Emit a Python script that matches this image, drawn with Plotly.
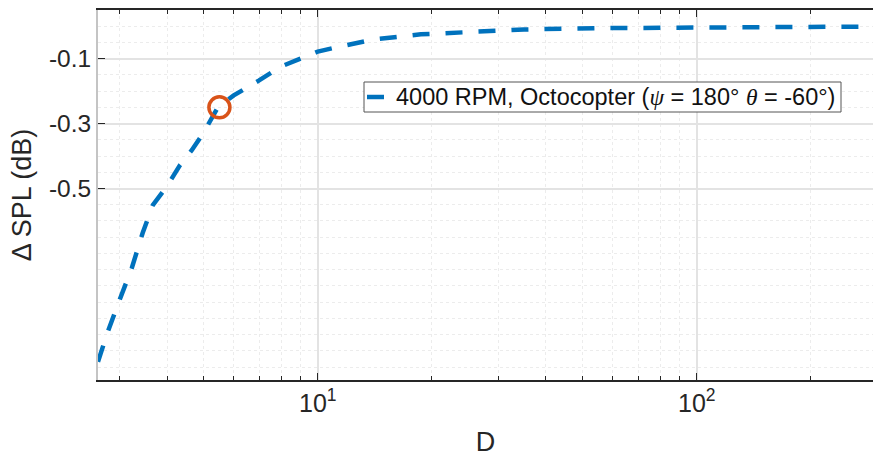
import plotly.graph_objects as go

# Data
D = [2.63, 2.79, 3.0, 3.23, 3.45, 3.67, 4.0, 4.33, 4.65, 5.0, 5.45, 6.0, 7.0, 8.0,
     9.0, 10.0, 11.2, 14.0, 18.7, 25.5, 35.0, 54.0, 100.0, 180.0, 290.0]
dSPL = [-1.034, -0.942, -0.843, -0.745, -0.637, -0.551, -0.493, -0.428, -0.382, -0.327,
        -0.250, -0.213, -0.167, -0.124, -0.100, -0.078, -0.065, -0.041, -0.025, -0.016,
        -0.010, -0.006, -0.003, -0.002, -0.001]
D_marker = [5.5]
dSPL_marker = [-0.25]

GREEK = "<span style='font-family:Liberation Serif, DejaVu Serif, serif'><i>{}</i></span>"
series_name = ("4000 RPM, Octocopter (" + GREEK.format("ψ") + " = 180° "
               + GREEK.format("θ") + " = -60°)")
x_tickvals = [10, 100]
x_ticktext = ["10<sup>1</sup>", "10<sup>2</sup>"]
x_minor = [3, 4, 5, 6, 7, 8, 9, 20, 30, 40, 50, 60, 70, 80, 90, 200]
y_tickvals = [-0.5, -0.3, -0.1]
y_ticktext = ["-0.5", "-0.3", "-0.1"]

FONT = "Liberation Sans, Arial, sans-serif"
BLUE = "#0072BD"
ORANGE = "#D95319"

# layout geometry (pixels)
W, H = 873, 459
ML, MR, MT, MB = 98, 0, 10, 79
PW, PH = W - ML - MR, H - MT - MB


def px_x(p):
    return (p - ML) / PW


def px_y(p):
    return (H - MB - p) / PH


fig = go.Figure()
fig.add_trace(go.Scatter(
    x=D, y=dSPL, mode="lines", name=series_name, showlegend=False,
    line=dict(color=BLUE, width=4.5, dash="17px,16px"),
))
fig.add_trace(go.Scatter(
    x=D_marker, y=dSPL_marker, mode="markers", showlegend=False,
    marker=dict(symbol="circle-open", size=21, color=ORANGE,
                line=dict(width=3.5, color=ORANGE)),
))

# legend box drawn manually (compact, like the reference)
LEG_L, LEG_R, LEG_T, LEG_B = 364, 841, 82, 112
fig.add_shape(type="rect", xref="paper", yref="paper",
              x0=px_x(LEG_L), x1=px_x(LEG_R), y0=px_y(LEG_B), y1=px_y(LEG_T),
              fillcolor="white", line=dict(color="#555555", width=1), layer="above")
fig.add_shape(type="line", xref="paper", yref="paper",
              x0=px_x(LEG_L + 3), x1=px_x(LEG_L + 20),
              y0=px_y((LEG_T + LEG_B) / 2), y1=px_y((LEG_T + LEG_B) / 2),
              line=dict(color=BLUE, width=4.5), layer="above")
fig.add_annotation(xref="paper", yref="paper",
                   x=px_x(LEG_L + 30), y=px_y((LEG_T + LEG_B) / 2),
                   xanchor="left", yanchor="middle", showarrow=False,
                   text=series_name, font=dict(family=FONT, size=23.5, color="#111111"))

fig.update_layout(
    width=W, height=H,
    margin=dict(l=ML, r=MR, t=MT, b=MB),
    paper_bgcolor="white", plot_bgcolor="white",
    font=dict(family=FONT, size=25, color="#262626"),
    showlegend=False,
    xaxis=dict(
        type="log", range=[0.42, 2.465],
        tickmode="array", tickvals=x_tickvals, ticktext=x_ticktext,
        ticks="inside", ticklen=7, tickwidth=1, tickcolor="#262626",
        tickfont=dict(size=25),
        showline=True, linecolor="#262626", linewidth=1.5, mirror="ticks",
        showgrid=True, gridcolor="#e3e3e3", gridwidth=1.5,
        minor=dict(tickmode="array", tickvals=x_minor, ticks="inside", ticklen=4,
                   tickcolor="#262626", showgrid=True, gridcolor="#ececec",
                   griddash="dot", gridwidth=1),
        title=dict(text="D", font=dict(size=27, color="#262626"), standoff=16),
        zeroline=False,
    ),
    yaxis=dict(
        range=[-1.09, 0.05],
        tickmode="array", tickvals=y_tickvals, ticktext=y_ticktext,
        ticks="inside", ticklen=7, tickwidth=1, tickcolor="#262626",
        tickfont=dict(size=24.5),
        showline=True, linecolor="#c4c4c4", linewidth=2,
        showgrid=True, gridcolor="#e3e3e3", gridwidth=1.5,
        minor=dict(tickmode="linear", tick0=0, dtick=0.05, ticks="",
                   showgrid=True, gridcolor="#ececec", griddash="dot", gridwidth=1),
        title=dict(text="Δ SPL (dB)", font=dict(size=27, color="#262626"), standoff=9),
        zeroline=False,
    ),
)

fig.write_html("out.html")
